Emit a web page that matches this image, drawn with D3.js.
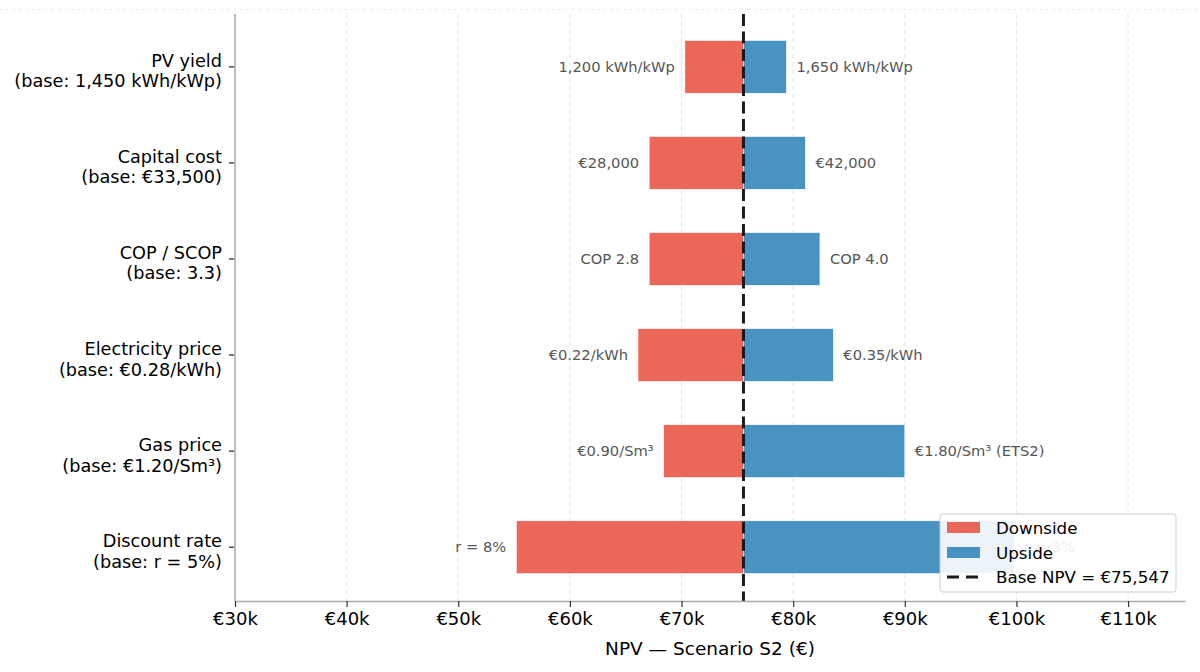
<!DOCTYPE html>
<html><head><meta charset="utf-8">
<script src="https://cdn.jsdelivr.net/npm/d3@7"></script>
<style>body{margin:0;background:#fff}svg{display:block;font-family:"DejaVu Sans",sans-serif}</style>
</head><body><svg id="c" width="1200" height="672"></svg>
<script>
const categories = ["PV yield","Capital cost","COP / SCOP","Electricity price","Gas price","Discount rate"];
const baseLabels = ["(base: 1,450 kWh/kWp)","(base: €33,500)","(base: 3.3)","(base: €0.28/kWh)","(base: €1.20/Sm³)","(base: r = 5%)"];
const downside = [70300, 67100, 67100, 66100, 68400, 55200];
const upside = [79400, 81100, 82400, 83600, 90000, 99800];
const downLabels = ["1,200 kWh/kWp","€28,000","COP 2.8","€0.22/kWh","€0.90/Sm³","r = 8%"];
const upLabels = ["1,650 kWh/kWp","€42,000","COP 4.0","€0.35/kWh","€1.80/Sm³ (ETS2)","r = 3%"];
const baseNPV = 75547;
const xTicks = [30000,40000,50000,60000,70000,80000,90000,100000,110000];

const svg = d3.select("#c");
const L = 235, R = 1185, T = 14, B = 601;
const x = d3.scaleLinear().domain([30000, 115100]).range([L, R]);
const n = categories.length;
const y = d3.scaleLinear().domain([-0.56, n - 1 + 0.55]).range([B, T]);
const yPos = i => y(n - 1 - i);
const bh = Math.abs(y(0) - y(0.55));

svg.append("line").attr("x1",0).attr("x2",1200).attr("y1",9.5).attr("y2",9.5)
  .attr("stroke","#ddd").attr("stroke-width",1).attr("stroke-dasharray","1.5,5");

svg.append("g").selectAll("line").data(xTicks).join("line")
  .attr("x1",d=>x(d)).attr("x2",d=>x(d)).attr("y1",T).attr("y2",B)
  .attr("stroke","#e6e6e6").attr("stroke-width",1).attr("stroke-dasharray","5,3");

const rows = categories.map((c,i)=>({c,i}));
svg.append("g").selectAll("rect").data(rows).join("rect")
  .attr("x",d=>x(downside[d.i])).attr("width",d=>x(baseNPV)-x(downside[d.i]))
  .attr("y",d=>yPos(d.i)-bh/2).attr("height",bh)
  .attr("fill","#e74c3c").attr("fill-opacity",0.85).attr("stroke","#fff").attr("stroke-width",0.6);
svg.append("g").selectAll("rect").data(rows).join("rect")
  .attr("x",d=>x(baseNPV)).attr("width",d=>x(upside[d.i])-x(baseNPV))
  .attr("y",d=>yPos(d.i)-bh/2).attr("height",bh)
  .attr("fill","#2980b9").attr("fill-opacity",0.85).attr("stroke","#fff").attr("stroke-width",0.6);

svg.append("g").selectAll("text").data(rows).join("text")
  .attr("x",d=>x(downside[d.i])-10).attr("y",d=>yPos(d.i)).attr("dy","0.36em")
  .attr("text-anchor","end").attr("font-size",14.7).attr("fill","#555").text(d=>downLabels[d.i]);
svg.append("g").selectAll("text").data(rows).join("text")
  .attr("x",d=>x(upside[d.i])+10).attr("y",d=>yPos(d.i)).attr("dy","0.36em")
  .attr("text-anchor","start").attr("font-size",14.7).attr("fill","#555").text(d=>upLabels[d.i]);

svg.append("line").attr("x1",x(baseNPV)).attr("x2",x(baseNPV)).attr("y1",T).attr("y2",B)
  .attr("stroke","#1a1a1a").attr("stroke-width",3).attr("stroke-dasharray","12,5.5");

const xa = svg.append("g").attr("transform",`translate(0,${B})`)
  .call(d3.axisBottom(x).tickValues(xTicks).tickFormat(d=>"€"+(d/1000)+"k").tickSize(6).tickPadding(5).tickSizeOuter(0));
xa.select(".domain").attr("stroke","#aaa").attr("stroke-width",1.5);
xa.selectAll(".tick line").attr("stroke","#333").attr("stroke-width",1.2);
xa.selectAll(".tick text").attr("font-size",18).attr("fill","#000").attr("font-family","DejaVu Sans");

svg.append("line").attr("x1",L).attr("x2",L).attr("y1",T).attr("y2",B).attr("stroke","#aaa").attr("stroke-width",1.5);
const yg = svg.append("g").selectAll("g").data(rows).join("g");
yg.append("line").attr("x1",L-6).attr("x2",L-1).attr("y1",d=>yPos(d.i)).attr("y2",d=>yPos(d.i)).attr("stroke","#333").attr("stroke-width",1.3);
const yt = yg.append("text").attr("text-anchor","end").attr("font-size",17.7).attr("fill","#000");
yt.append("tspan").attr("x",L-13).attr("y",d=>yPos(d.i)).text(d=>d.c);
yt.append("tspan").attr("x",L-13).attr("y",d=>yPos(d.i)+20.5).text(d=>baseLabels[d.i]);

svg.append("text").attr("x",(L+R)/2).attr("y",655).attr("text-anchor","middle").attr("font-size",18.5).attr("fill","#000")
  .text("NPV — Scenario S2 (€)");

const lg = svg.append("g").attr("transform","translate(940,514)");
lg.append("rect").attr("width",236).attr("height",78).attr("rx",3).attr("fill","#fff").attr("fill-opacity",0.9)
  .attr("stroke","#ccc").attr("stroke-width",1);
const items = [{t:"Downside",c:"#e74c3c"},{t:"Upside",c:"#2980b9"}];
items.forEach((it,k)=>{
  lg.append("rect").attr("x",7).attr("y",8+k*25).attr("width",33).attr("height",11)
    .attr("fill",it.c).attr("fill-opacity",0.85);
  lg.append("text").attr("x",56).attr("y",20+k*24.5).attr("font-size",16.7).text(it.t);
});
lg.append("line").attr("x1",7).attr("x2",40).attr("y1",63).attr("y2",63).attr("stroke","#1a1a1a").attr("stroke-width",3).attr("stroke-dasharray","12,7");
lg.append("text").attr("x",56).attr("y",69).attr("font-size",16.7).text("Base NPV = €"+d3.format(",")(baseNPV));
</script></body></html>
